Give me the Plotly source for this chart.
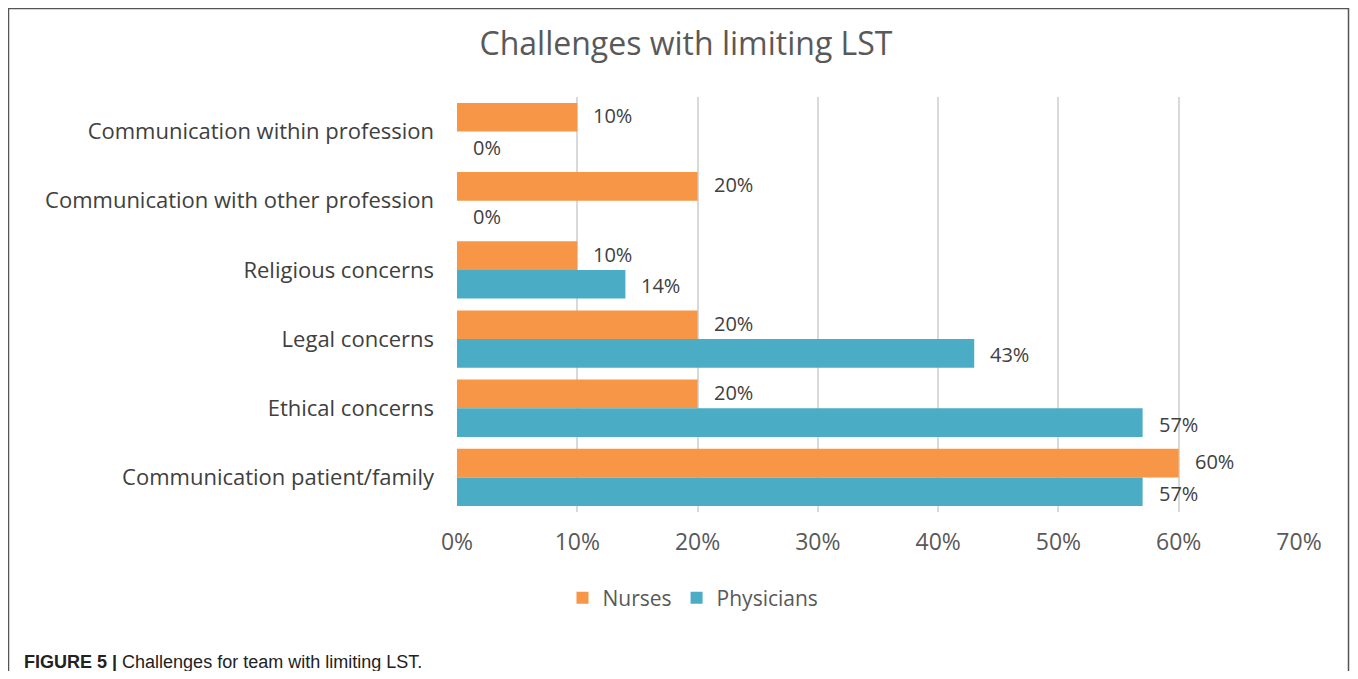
import plotly.graph_objects as go

categories = [
    "Communication within profession",
    "Communication with other profession",
    "Religious concerns",
    "Legal concerns",
    "Ethical concerns",
    "Communication patient/family",
]
nurses = [0.10, 0.20, 0.10, 0.20, 0.20, 0.60]
physicians = [0.00, 0.00, 0.14, 0.43, 0.57, 0.57]
x_ticks = [0, 0.1, 0.2, 0.3, 0.4, 0.5, 0.6, 0.7]

# page offset (body margin) compensation
OFF = 8
W, H = 1358 - 2 * OFF, 679 - 2 * OFF
# plot area in page pixels: x 457..1299, y 97..512
PL, PR, PT, PB = 457, 1299, 97, 512
L, T = PL - OFF, PT - OFF
R, B = W - (PR - OFF), H - (PB - OFF)
PW, PH = PR - PL, PB - PT

def px_x(p):  # page px -> paper x
    return (p - PL) / PW

def px_y(p):  # page px -> paper y
    return 1 - (p - PT) / PH

ORANGE = "#F79646"
BLUE = "#4BACC6"
FONT = "'Open Sans', Lato, sans-serif"

fig = go.Figure()
fig.add_trace(go.Bar(y=categories, x=nurses, name="Nurses", orientation="h",
                     marker=dict(color=ORANGE, line=dict(width=0)), legendrank=1))
fig.add_trace(go.Bar(y=categories, x=physicians, name="Physicians", orientation="h",
                     marker=dict(color=BLUE, line=dict(width=0)), legendrank=2))

annotations = []
for i, c in enumerate(categories):
    for vals, off in ((nurses, -0.23), (physicians, 0.23)):
        annotations.append(dict(
            x=vals[i], y=i + off, xref="x", yref="y",
            text=f"{round(vals[i]*100)}%", showarrow=False,
            xanchor="left", yanchor="middle", xshift=14,
            font=dict(family=FONT, size=20, color="#404040"),
        ))

annotations.append(dict(
    x=px_x(22), y=px_y(662), xref="paper", yref="paper",
    text="<b>FIGURE 5 |</b> Challenges for team with limiting LST.",
    showarrow=False, xanchor="left", yanchor="middle",
    font=dict(family="'Liberation Sans Narrow', 'Arial Narrow', 'Liberation Sans', sans-serif",
              size=18, color="#222222"),
))

fig.update_layout(
    width=W, height=H,
    margin=dict(l=L, r=R, t=T, b=B, autoexpand=False),
    paper_bgcolor="white", plot_bgcolor="white",
    barmode="group", bargap=0.17, bargroupgap=0,
    title=dict(text="Challenges with limiting LST", x=(686 - OFF) / W, xref="container",
               xanchor="center", y=1 - (44 - OFF) / H, yref="container", yanchor="middle",
               font=dict(family=FONT, size=32, color="#595959")),
    xaxis=dict(range=[0, 0.7], tickvals=x_ticks, tickformat=".0%",
               showgrid=True, gridcolor="#D9D9D9", gridwidth=2,
               zeroline=False, showline=False, ticks="",
               tickfont=dict(family=FONT, size=23, color="#595959"),
               ticklabelstandoff=14),
    yaxis=dict(autorange="reversed", showgrid=False, zeroline=False,
               showline=False, ticks="",
               tickfont=dict(family=FONT, size=22, color="#404040"),
               ticklabelstandoff=22),
    legend=dict(orientation="h", x=px_x(693), xanchor="center", y=px_y(598),
                yanchor="middle", font=dict(family=FONT, size=21, color="#595959"),
                itemsizing="constant", traceorder="normal"),
    annotations=annotations,
    shapes=[dict(type="rect", xref="paper", yref="paper",
                 x0=px_x(8.5), x1=px_x(1348.5), y0=px_y(700), y1=px_y(8.5),
                 line=dict(color="#555555", width=1.5), layer="below")],
)

fig.write_html("out.html")
